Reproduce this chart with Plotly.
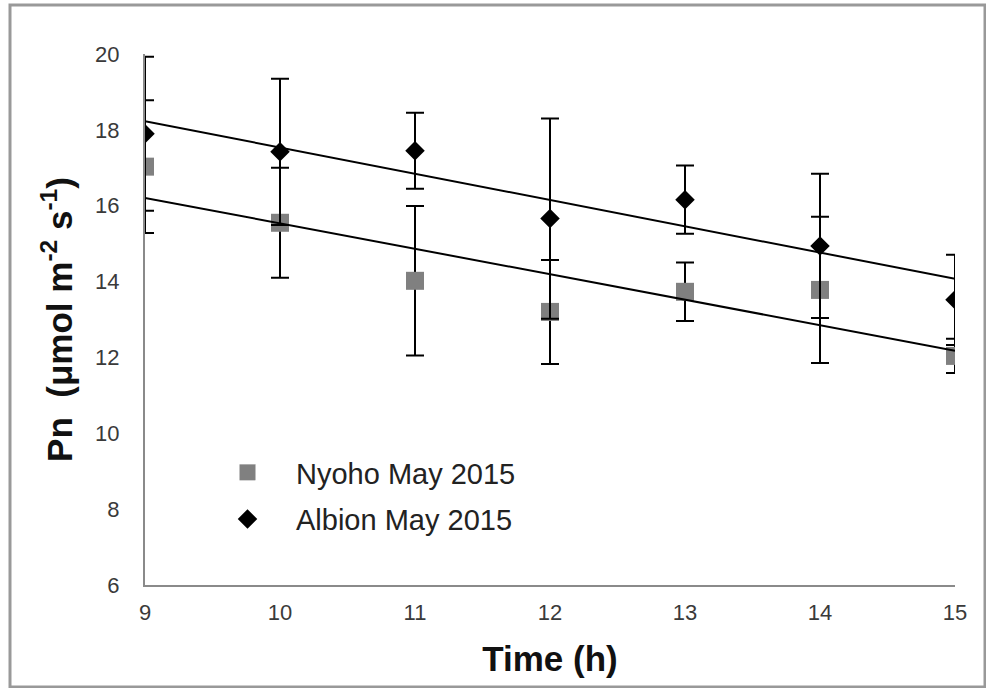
import numpy as np
import plotly.graph_objects as go

# ---- data ----
hours = [9, 10, 11, 12, 13, 14, 15]
nyoho_pn = [17.03, 15.55, 14.02, 13.20, 13.73, 13.78, 12.04]
nyoho_err = [1.75, 1.45, 1.97, 1.37, 0.77, 1.93, 0.45]
albion_pn = [17.90, 17.42, 17.45, 15.66, 16.16, 14.94, 13.52]
albion_err = [2.03, 1.93, 1.00, 2.64, 0.90, 1.90, 1.19]
series_names = ["Nyoho May 2015", "Albion May 2015"]
y_ticks = [6, 8, 10, 12, 14, 16, 18, 20]
x_ticks = [9, 10, 11, 12, 13, 14, 15]

TICK_FONT = dict(family="Liberation Sans Narrow, Arial Narrow, Liberation Sans, Arial", size=22, color="#3a3a3a")
TITLE_FONT = dict(family="Liberation Sans, Arial", size=35, color="#111111", weight=700)

fig = go.Figure()

err_style = dict(type="data", visible=True, color="black", thickness=2, width=9)

fig.add_trace(go.Scatter(
    x=hours, y=nyoho_pn, mode="markers", name=series_names[0],
    legendgroup="a",
    marker=dict(symbol="square", size=18, color="#808080"),
    error_y=dict(array=nyoho_err, **err_style),
))
fig.add_trace(go.Scatter(
    x=hours, y=albion_pn, mode="markers", name=series_names[1],
    legendgroup="b",
    marker=dict(symbol="diamond", size=15, color="black"),
    error_y=dict(array=albion_err, **err_style),
))

# linear trend lines computed from the data
xs = np.array([min(hours), max(hours)], dtype=float)
for vals in (nyoho_pn, albion_pn):
    k, b = np.polyfit(hours, vals, 1)
    fig.add_trace(go.Scatter(x=xs, y=k * xs + b, mode="lines",
                             line=dict(color="black", width=2),
                             showlegend=False, hoverinfo="skip"))

L, R, T, B = 145, 31, 54, 103
W, H = 986, 688
pw, ph = W - L - R, H - T - B

def px2paper_x(px):
    return (px - L) / pw

def px2paper_y(py):
    return (H - B - py) / ph

fig.update_layout(
    width=W, height=H,
    margin=dict(l=L, r=R, t=T, b=B, autoexpand=False),
    paper_bgcolor="white", plot_bgcolor="white",
    showlegend=True,
    legend=dict(
        x=px2paper_x(199), y=px2paper_y(447), xanchor="left", yanchor="top",
        font=dict(family="Liberation Sans, Arial", size=29, color="#222222"),
        bgcolor="rgba(0,0,0,0)", tracegroupgap=6, itemwidth=87,
    ),
    xaxis=dict(
        range=[9, 15], tickvals=x_ticks, ticktext=[str(v) for v in x_ticks],
        showgrid=False, zeroline=False, showline=True, linecolor="#8a8a8a", linewidth=2,
        ticks="", tickfont=TICK_FONT, ticklabelstandoff=7,
        title=dict(text="Time (h)", font=TITLE_FONT, standoff=22),
    ),
    yaxis=dict(
        range=[6, 20], tickvals=y_ticks, ticktext=[str(v) for v in y_ticks],
        showgrid=False, zeroline=False, showline=True, linecolor="#8a8a8a", linewidth=2,
        ticks="", tickfont=TICK_FONT, ticklabelstandoff=19,
        title=dict(text="Pn  (μmol m<sup>-2</sup> s<sup>-1</sup>)", font=TITLE_FONT, standoff=12),
    ),
    shapes=[dict(
        type="rect", xref="paper", yref="paper",
        x0=px2paper_x(10), x1=px2paper_x(985), y0=px2paper_y(687), y1=px2paper_y(5),
        line=dict(color="#999999", width=3), fillcolor="rgba(0,0,0,0)", layer="below",
    )],
)

fig.write_html("out.html")
